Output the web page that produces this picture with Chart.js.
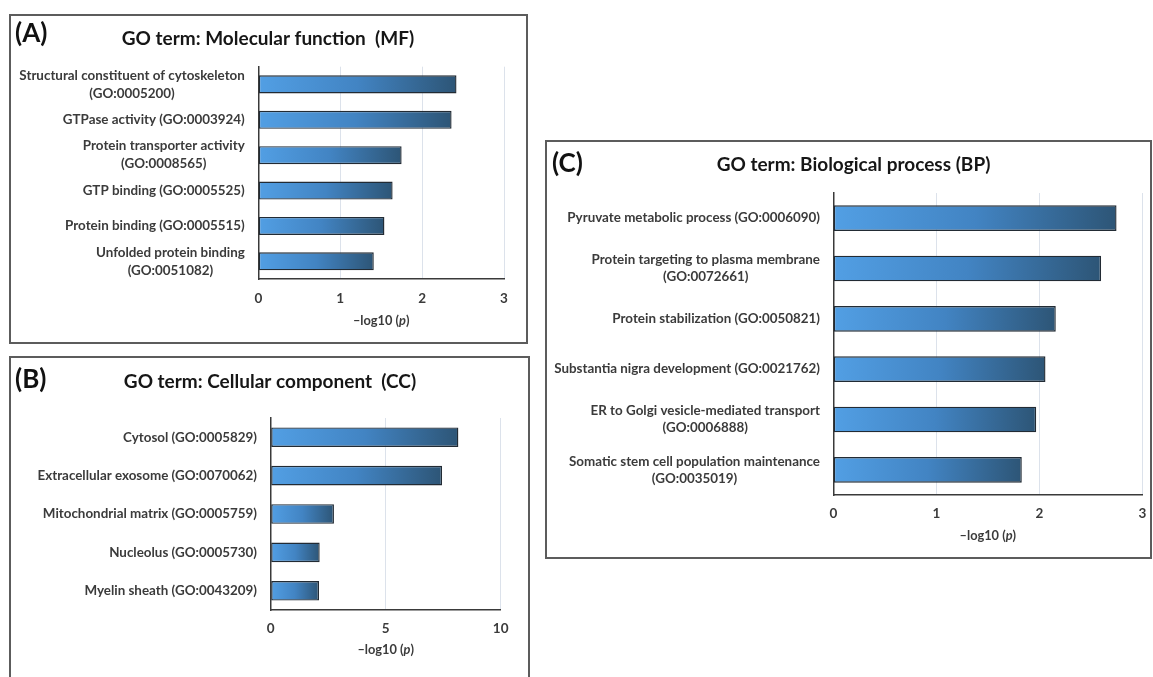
<!DOCTYPE html>
<html>
<head>
<meta charset="utf-8">
<script src="https://cdn.jsdelivr.net/npm/chart.js@4.4.0/dist/chart.umd.min.js"></script>
<style>
  html, body { margin:0; padding:0; background:#ffffff; width:1153px; height:677px; overflow:hidden; }
  .box { position:absolute; box-sizing:border-box; border:2px solid #5c5c5c; background:#fff; }
  canvas { position:absolute; }
  .tag { position:absolute; font-family:Lato, sans-serif; font-weight:bold; font-size:26px; line-height:26px; color:#111; white-space:nowrap; }
</style>
</head>
<body>
<div class="box" style="left:9px;top:14px;width:519px;height:330px"></div>
<div class="box" style="left:9px;top:356px;width:521px;height:340px"></div>
<div class="box" style="left:545px;top:140px;width:607px;height:419px"></div>

<canvas id="cMF" width="515" height="326" style="left:11px;top:16px"></canvas>
<canvas id="cCC" width="517" height="319" style="left:11px;top:358px"></canvas>
<canvas id="cBP" width="603" height="415" style="left:547px;top:142px"></canvas>

<div class="tag" style="left:15px;top:19px">(A)</div>
<div class="tag" style="left:15px;top:365px">(B)</div>
<div class="tag" style="left:552px;top:149px">(C)</div>

<script>
// ---------- data ----------
const mfTitle = "GO term: Molecular function  (MF)";
const mfLabels = [
  ["Structural constituent of cytoskeleton", "(GO:0005200)"],
  ["GTPase activity (GO:0003924)"],
  ["Protein transporter activity", "(GO:0008565)"],
  ["GTP binding (GO:0005525)"],
  ["Protein binding (GO:0005515)"],
  ["Unfolded protein binding", "(GO:0051082)"]
];
const mfValues = [2.42, 2.36, 1.75, 1.64, 1.54, 1.41];
const mfTicks = [0, 1, 2, 3];

const ccTitle = "GO term: Cellular component  (CC)";
const ccLabels = [
  ["Cytosol (GO:0005829)"],
  ["Extracellular exosome (GO:0070062)"],
  ["Mitochondrial matrix (GO:0005759)"],
  ["Nucleolus (GO:0005730)"],
  ["Myelin sheath (GO:0043209)"]
];
const ccValues = [8.16, 7.45, 2.75, 2.13, 2.10];
const ccTicks = [0, 5, 10];

const bpTitle = "GO term: Biological process (BP)";
const bpLabels = [
  ["Pyruvate metabolic process (GO:0006090)"],
  ["Protein targeting to plasma membrane", "(GO:0072661)"],
  ["Protein stabilization (GO:0050821)"],
  ["Substantia nigra development (GO:0021762)"],
  ["ER to Golgi vesicle-mediated transport", "(GO:0006888)"],
  ["Somatic stem cell population maintenance", "(GO:0035019)"]
];
const bpValues = [2.75, 2.60, 2.16, 2.06, 1.97, 1.83];
const bpTicks = [0, 1, 2, 3];

const axisTitleParts = [["\u2013log10 (", false], ["p", true], [")", false]];

// ---------- rendering ----------
Chart.defaults.font.family = "Lato, sans-serif";
const LABEL_FONT = "bold 13.4px Lato, sans-serif";
const TEXT_COLOR = "#3b3b3b";

function barFill(c) {
  const chart = c.chart;
  const xs = chart.scales && chart.scales.x;
  if (!xs || c.type !== 'data') return '#4283c2';
  const x0 = xs.getPixelForValue(0), x1 = xs.getPixelForValue(c.raw);
  if (!isFinite(x0) || !isFinite(x1) || x1 <= x0) return '#4283c2';
  const g = chart.ctx.createLinearGradient(x0, 0, x1, 0);
  g.addColorStop(0, '#529fe4');
  g.addColorStop(0.5, '#4284c3');
  g.addColorStop(1, '#2d5576');
  return g;
}

const textPlugin = {
  id: 'goText',
  afterDraw(chart, args, opts) {
    const ys = chart.scales.y, xs = chart.scales.x, ctx = chart.ctx;
    ctx.save();
    ctx.font = LABEL_FONT;
    ctx.fillStyle = TEXT_COLOR;
    ctx.textAlign = 'center';
    ctx.textBaseline = 'middle';
    const right = ys.right - opts.gap;
    chart.data.labels.forEach((lines, i) => {
      const y = ys.getPixelForValue(i);
      const w = Math.max(...lines.map(l => ctx.measureText(l).width));
      const cx = right - w / 2;
      lines.forEach((l, j) => ctx.fillText(l, cx, y + (j - (lines.length - 1) / 2) * opts.lineHeight));
    });
    // axis title with italic p
    const fonts = axisTitleParts.map(p => (p[1] ? "italic bold 12.8px Lato, sans-serif" : "bold 12.8px Lato, sans-serif"));
    let total = 0;
    const widths = axisTitleParts.map((p, k) => { ctx.font = fonts[k]; const w = ctx.measureText(p[0]).width; total += w; return w; });
    let x = (xs.left + xs.right) / 2 - total / 2;
    const ty = xs.top + opts.titleOffset;
    ctx.textAlign = 'left';
    axisTitleParts.forEach((p, k) => { ctx.font = fonts[k]; ctx.fillText(p[0], x, ty); x += widths[k]; });
    ctx.restore();
  }
};

function makeChart(id, title, labels, values, ticks, g) {
  new Chart(document.getElementById(id), {
    type: 'bar',
    data: {
      labels: labels,
      datasets: [{
        data: values,
        backgroundColor: barFill,
        borderColor: '#222b34',
        borderWidth: 1.4,
        borderSkipped: false,
        barPercentage: 0.51,
        categoryPercentage: 1
      }]
    },
    options: {
      indexAxis: 'y',
      responsive: false,
      animation: false,
      events: [],
      layout: { padding: { left: g.padL, right: g.padR, top: 0, bottom: 0 } },
      plugins: {
        legend: { display: false },
        tooltip: { enabled: false },
        title: {
          display: true, text: title, color: '#161616',
          font: { family: 'Lato, sans-serif', size: 19, weight: 'bold' },
          padding: { top: g.tTop, bottom: g.tBot }
        },
        goText: { gap: g.gap, lineHeight: g.lh, titleOffset: g.atOff }
      },
      scales: {
        x: {
          type: 'linear', position: 'bottom',
          min: ticks[0], max: ticks[ticks.length - 1],
          afterBuildTicks: s => { s.ticks = ticks.map(v => ({ value: v })); },
          ticks: { color: TEXT_COLOR, padding: g.tickPad, font: { size: 13.5, weight: 'bold' } },
          grid: { color: '#dce2eb', lineWidth: 1, drawTicks: false },
          border: { display: true, color: '#3a3a3a', width: 1.5 },
          afterFit: s => { s.height = g.H; s.paddingLeft = 0; s.paddingRight = 0; }
        },
        y: {
          type: 'category',
          ticks: { display: false },
          grid: { display: false, drawTicks: false },
          border: { display: true, color: '#3a3a3a', width: 1.5 },
          afterFit: s => { s.width = g.W; s.paddingTop = 0; s.paddingBottom = 0; }
        }
      }
    },
    plugins: [textPlugin]
  });
}

makeChart('cMF', mfTitle, mfLabels, mfValues, mfTicks,
  { padL: 21, padR: 22, W: 226.3, H: 63, tTop: 11.6, tBot: 16.3, tickPad: 12, gap: 13.5, lh: 18, atOff: 42 });
makeChart('cCC', ccTitle, ccLabels, ccValues, ccTicks,
  { padL: 28.3, padR: 27.3, W: 231.4, H: 67, tTop: 12.6, tBot: 24.6, tickPad: 11, gap: 13.7, lh: 18, atOff: 40 });
makeChart('cBP', bpTitle, bpLabels, bpValues, bpTicks,
  { padL: 17.7, padR: 7.7, W: 268.6, H: 62, tTop: 11.6, tBot: 16.6, tickPad: 11, gap: 13.3, lh: 17, atOff: 41 });
</script>
</body>
</html>
